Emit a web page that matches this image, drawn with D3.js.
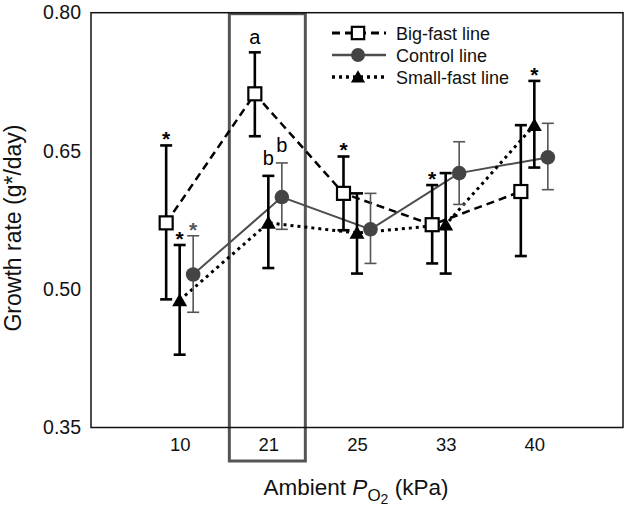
<!DOCTYPE html>
<html><head><meta charset="utf-8">
<script src="https://cdn.jsdelivr.net/npm/d3@7"></script>
<style>
html,body{margin:0;padding:0;background:#fff;}
text{font-family:"Liberation Sans",Arial,sans-serif;}
</style></head>
<body>
<svg id="chart" width="625" height="509"></svg>
<script>
const categories = ["10", "21", "25", "33", "40"];
const yTicks = [0.35, 0.50, 0.65, 0.80];

const bigFastMean = [0.572, 0.712, 0.604, 0.570, 0.606];
const bigFastUpper = [0.656, 0.757, 0.644, 0.613, 0.678];
const bigFastLower = [0.489, 0.666, 0.564, 0.528, 0.536];

const controlMean = [0.516, 0.600, 0.565, 0.626, 0.643];
const controlUpper = [0.558, 0.637, 0.604, 0.660, 0.680];
const controlLower = [0.475, 0.565, 0.528, 0.592, 0.608];

const smallFastMean = [0.488, 0.572, 0.561, 0.570, 0.678];
const smallFastUpper = [0.548, 0.623, 0.604, 0.626, 0.726];
const smallFastLower = [0.429, 0.523, 0.517, 0.517, 0.632];

const seriesNames = ["Big-fast line", "Control line", "Small-fast line"];
// annotations: [series index, category index, label]
const annotations = [
  [0, 0, "*"], [2, 0, "*"], [1, 0, "*"],
  [0, 2, "*"], [0, 3, "*"], [2, 4, "*"],
  [0, 1, "a"], [2, 1, "b"], [1, 1, "b"]
];
const highlightCategory = "21";

const svg = d3.select("#chart");
const M = {left: 91, right: 623, top: 12.7, bottom: 427.5};

const x = d3.scalePoint().domain(categories).range([M.left, M.right]).padding(1);
const y = d3.scaleLinear().domain([0.35, 0.80]).range([M.bottom, M.top]);

const series = [
  {name: seriesNames[0], mean: bigFastMean, up: bigFastUpper, lo: bigFastLower, off: -13.5,
   color: "#000", lineDash: "8,5", lineW: 2.5, errColor: "#000", errW: 2.6, marker: "square"},
  {name: seriesNames[1], mean: controlMean, up: controlUpper, lo: controlLower, off: 13.5,
   color: "#4d4d4d", lineDash: null, lineW: 2, errColor: "#555", errW: 1.6, marker: "circle"},
  {name: seriesNames[2], mean: smallFastMean, up: smallFastUpper, lo: smallFastLower, off: 0,
   color: "#000", lineDash: "3,4", lineW: 3, errColor: "#000", errW: 2.6, marker: "triangle"}
];

// highlight box
const bx = x(highlightCategory);
svg.append("rect")
  .attr("x", bx - 39).attr("y", M.top + 1)
  .attr("width", 76).attr("height", 461 - M.top - 1)
  .attr("fill", "none").attr("stroke", "#555").attr("stroke-width", 3);

// frame
svg.append("rect")
  .attr("x", M.left).attr("y", M.top)
  .attr("width", M.right - M.left).attr("height", M.bottom - M.top)
  .attr("fill", "none").attr("stroke", "#111").attr("stroke-width", 1.5);

// y axis
const yAxis = d3.axisLeft(y).tickValues(yTicks).tickSize(0).tickPadding(10)
  .tickFormat(d3.format(".2f"));
const gy = svg.append("g").attr("transform", `translate(${M.left},0)`).call(yAxis);
gy.select(".domain").remove();
gy.selectAll("text").attr("font-size", 19.5).attr("fill", "#111")
  .attr("font-family", '"Liberation Sans",Arial,sans-serif');

// x axis
const xAxis = d3.axisBottom(x).tickSize(0).tickPadding(10);
const gx = svg.append("g").attr("transform", `translate(0,${M.bottom})`).call(xAxis);
gx.select(".domain").remove();
gx.selectAll("text").attr("font-size", 18.5).attr("fill", "#111")
  .attr("font-family", '"Liberation Sans",Arial,sans-serif');

// axis titles
svg.append("text")
  .attr("transform", "translate(21,228) rotate(-90)")
  .attr("text-anchor", "middle").attr("font-size", 23).attr("fill", "#111")
  .text("Growth rate (g*/day)");

const xt = svg.append("text").attr("x", 356).attr("y", 495)
  .attr("text-anchor", "middle").attr("font-size", 22.5).attr("fill", "#111");
xt.append("tspan").text("Ambient ");
xt.append("tspan").attr("font-style", "italic").text("P");
xt.append("tspan").attr("font-size", 17).attr("dy", 6).text("O");
xt.append("tspan").attr("font-size", 14).attr("dy", 3).text("2");
xt.append("tspan").attr("dy", -9).text(" (kPa)");

// lines
series.forEach(s => {
  const line = d3.line().x((d, i) => x(categories[i]) + s.off).y(d => y(d));
  const p = svg.append("path").datum(s.mean).attr("d", line)
    .attr("fill", "none").attr("stroke", s.color).attr("stroke-width", s.lineW);
  if (s.lineDash) p.attr("stroke-dasharray", s.lineDash);
});

// error bars
series.forEach(s => {
  const g = svg.append("g").attr("stroke", s.errColor).attr("stroke-width", s.errW);
  categories.forEach((c, i) => {
    const cx = x(c) + s.off;
    g.append("line").attr("x1", cx).attr("x2", cx).attr("y1", y(s.up[i])).attr("y2", y(s.lo[i]));
    g.append("line").attr("x1", cx - 6).attr("x2", cx + 6).attr("y1", y(s.up[i])).attr("y2", y(s.up[i]));
    g.append("line").attr("x1", cx - 6).attr("x2", cx + 6).attr("y1", y(s.lo[i])).attr("y2", y(s.lo[i]));
  });
});

function drawMarker(g, type, cx, cy, scale) {
  const k = scale || 1;
  if (type === "square") {
    g.append("rect").attr("x", cx - 6.5 * k).attr("y", cy - 6.5 * k)
      .attr("width", 13 * k).attr("height", 13 * k)
      .attr("fill", "#fff").attr("stroke", "#000").attr("stroke-width", 2.2);
  } else if (type === "circle") {
    g.append("circle").attr("cx", cx).attr("cy", cy).attr("r", 7.3 * k).attr("fill", "#444");
  } else {
    const h = 13 * k, w = 15 * k;
    g.append("path")
      .attr("d", `M${cx},${cy - h * 0.55}L${cx + w / 2},${cy + h * 0.45}L${cx - w / 2},${cy + h * 0.45}Z`)
      .attr("fill", "#000");
  }
}

// markers
series.forEach(s => {
  const g = svg.append("g");
  categories.forEach((c, i) => drawMarker(g, s.marker, x(c) + s.off, y(s.mean[i])));
});

// annotations
annotations.forEach(([si, ci, lab]) => {
  const s = series[si];
  const cx = x(categories[ci]) + s.off;
  const top = y(s.up[ci]);
  const isStar = lab === "*";
  const dy = isStar ? 1 : (lab === "a" ? -8 : -11);
  svg.append("text")
    .attr("x", cx).attr("y", top + dy)
    .attr("text-anchor", "middle")
    .attr("font-size", isStar ? 21 : 20)
    .attr("font-weight", isStar ? "bold" : "normal")
    .attr("fill", (isStar && si === 1) ? "#555" : "#000")
    .text(lab);
});

// legend
const lg = svg.append("g");
const legY = [33, 55, 77];
series.forEach((s, i) => {
  const ly = legY[i];
  const l = lg.append("line").attr("x1", 332).attr("x2", 386).attr("y1", ly).attr("y2", ly)
    .attr("stroke", s.color).attr("stroke-width", s.lineW + 0.5);
  if (s.lineDash) l.attr("stroke-dasharray", s.lineDash);
  drawMarker(lg, s.marker, 358, ly, 0.95);
  lg.append("text").attr("x", 396).attr("y", ly + 6.5).attr("font-size", 18).attr("fill", "#111")
    .text(s.name);
});
</script>
</body></html>
